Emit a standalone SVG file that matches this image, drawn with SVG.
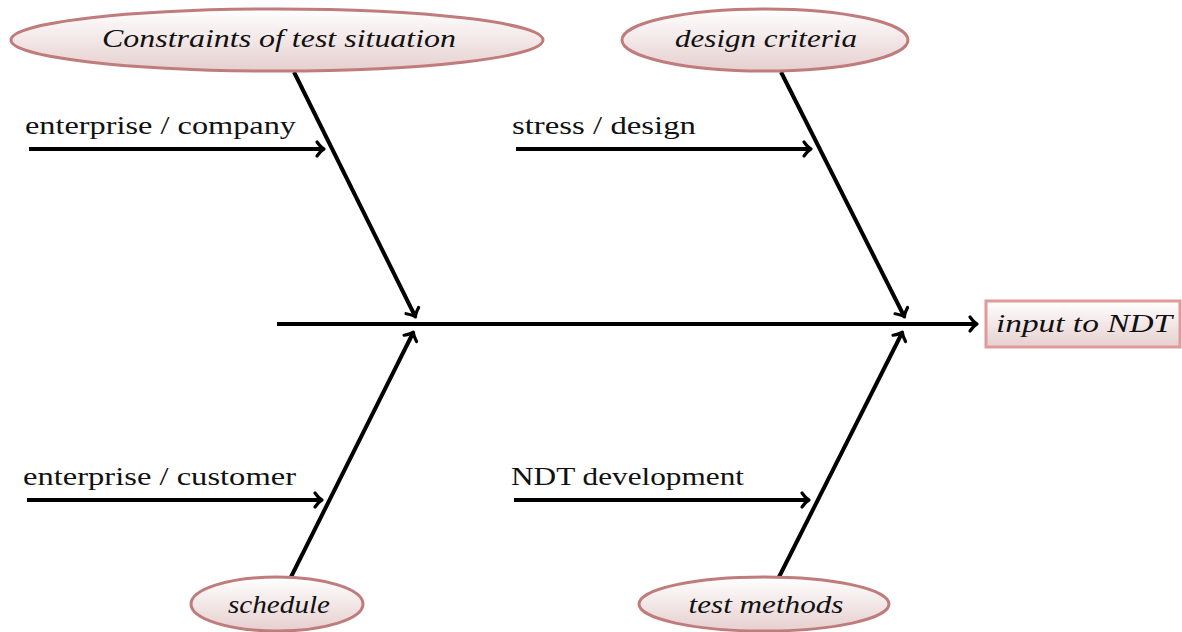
<svg xmlns="http://www.w3.org/2000/svg" width="1182" height="632" viewBox="0 0 1182 632">
<style>
.lbl{font-family:"Liberation Serif","DejaVu Serif",serif;font-size:26px;fill:#111}
.it{font-family:"Liberation Serif","DejaVu Serif",serif;font-style:italic;font-size:26px;fill:#111}
.ell{fill:url(#g);stroke:#c07c7c;stroke-width:3}
.box{fill:url(#g);stroke:#e09a9a;stroke-width:3}
.ln{stroke:#000;stroke-width:4;fill:none;marker-end:url(#ah)}
</style>
<defs>
<linearGradient id="g" x1="0" y1="0" x2="0" y2="1">
<stop offset="0" stop-color="#ffffff"/>
<stop offset="1" stop-color="#e6cfcf"/>
</linearGradient>
<marker id="ah" markerUnits="userSpaceOnUse" markerWidth="20" markerHeight="20" viewBox="-10 -10 20 20" refX="0" refY="0" orient="auto">
<path d="M-6,-7 Q-2,-1.5 1,0 Q-2,1.5 -6,7" fill="none" stroke="#000" stroke-width="3.2" stroke-linecap="round" stroke-linejoin="round"/>
</marker>
</defs>
<g id="connectors">
<line class="ln" x1="277" y1="324" x2="976" y2="324"/>
<line class="ln" x1="294" y1="72" x2="415" y2="316"/>
<line class="ln" x1="781" y1="72" x2="904" y2="316"/>
<line class="ln" x1="291" y1="577" x2="413" y2="333"/>
<line class="ln" x1="779" y1="577" x2="902" y2="333"/>
<line class="ln" x1="29" y1="149" x2="323" y2="149"/>
<line class="ln" x1="516" y1="149" x2="810" y2="149"/>
<line class="ln" x1="27" y1="500" x2="321" y2="500"/>
<line class="ln" x1="514" y1="500" x2="808" y2="500"/>
</g>
<g id="branch-labels">
<text class="lbl" x="25" y="134" textLength="271" lengthAdjust="spacingAndGlyphs">enterprise / company</text>
<text class="lbl" x="512" y="134" textLength="184" lengthAdjust="spacingAndGlyphs">stress / design</text>
<text class="lbl" x="23" y="485" textLength="273" lengthAdjust="spacingAndGlyphs">enterprise / customer</text>
<text class="lbl" x="511" y="485" textLength="233" lengthAdjust="spacingAndGlyphs">NDT development</text>
</g>
<g id="constraints">
<ellipse class="ell" cx="277" cy="40" rx="266" ry="31"/>
<text class="it" x="279" y="47" text-anchor="middle" textLength="354" lengthAdjust="spacingAndGlyphs">Constraints of test situation</text>
</g>
<g id="design-criteria">
<ellipse class="ell" cx="765" cy="40" rx="143" ry="31"/>
<text class="it" x="766" y="47" text-anchor="middle" textLength="182" lengthAdjust="spacingAndGlyphs">design criteria</text>
</g>
<g id="schedule">
<ellipse class="ell" cx="277" cy="604" rx="86" ry="27"/>
<text class="it" x="279" y="613" text-anchor="middle" textLength="102" lengthAdjust="spacingAndGlyphs">schedule</text>
</g>
<g id="test-methods">
<ellipse class="ell" cx="764" cy="604" rx="125" ry="27"/>
<text class="it" x="766" y="613" text-anchor="middle" textLength="155" lengthAdjust="spacingAndGlyphs">test methods</text>
</g>
<g id="input-to-ndt">
<rect class="box" x="986" y="301" width="194" height="46"/>
<text class="it" x="1084" y="332" text-anchor="middle" textLength="176" lengthAdjust="spacingAndGlyphs">input to NDT</text>
</g>
</svg>
